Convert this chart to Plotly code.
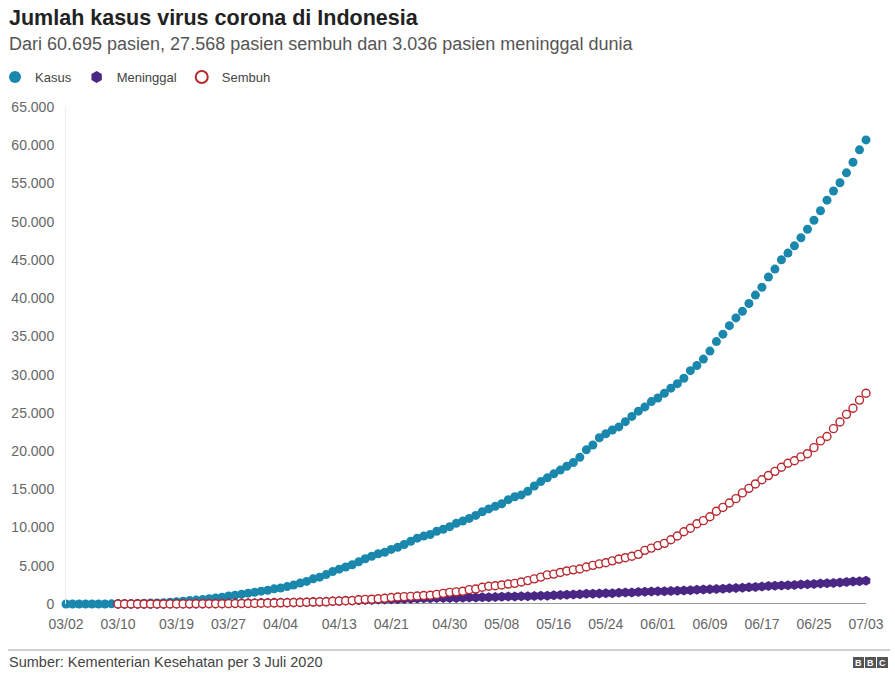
import plotly.graph_objects as go
import pandas as pd

# ---------------- data ----------------
dates = pd.date_range("2020-03-02", "2020-07-03").strftime("%Y-%m-%d").tolist()

kasus = [
    2, 2, 2, 2, 4, 4, 6, 19, 27, 34, 34, 69, 96, 117, 134, 172, 227, 309, 369, 450,
    514, 579, 686, 790, 893, 1046, 1155, 1285, 1414, 1528,
    1677, 1790, 1986, 2092, 2273, 2491, 2738, 2956, 3293, 3512, 3842, 4241, 4557, 4839,
    5136, 5516, 5923, 6248, 6575, 6760, 7135, 7418, 7775, 8211, 8607, 8882, 9096, 9511,
    9771, 10118,
    10551, 10843, 11192, 11587, 12071, 12438, 12776, 13112, 13645, 14032, 14265, 14749,
    15438, 16006, 16496, 17025, 17514, 18010, 18496, 19189, 20162, 20796, 21745, 22271,
    22750, 23165, 23851, 24538, 25216, 25773, 26473,
    26940, 27549, 28233, 28818, 29521, 30514, 31186, 32033, 33076, 34316, 35295, 36406,
    37420, 38277, 39294, 40400, 41431, 42762, 43803, 45029, 45891, 46845, 47896, 49009,
    50187, 51427, 52812, 54010, 55092, 56385,
    57770, 59394, 60695,
]

dates_later = dates[8:]  # series below start on 03/10

meninggal = [
    0, 1, 1, 4, 5, 5, 5, 7, 19, 25, 32, 38, 48, 49, 55, 58, 78, 87, 102, 114, 122, 136,
    157, 170, 181, 191, 198, 209, 221, 240, 280, 306, 327, 373, 399, 459, 469, 496, 520,
    535, 582, 590, 616, 635, 647, 689, 720, 743, 765, 773, 784, 792,
    800, 831, 845, 864, 872, 895, 930, 959, 973, 991, 1007, 1028, 1043, 1076, 1089, 1148,
    1191, 1221, 1242, 1278, 1326, 1351, 1372, 1391, 1418, 1473, 1496, 1520, 1573, 1613, 1641,
    1663, 1663, 1698, 1721, 1770, 1801, 1851, 1883, 1923, 1959, 2000, 2048, 2091, 2134,
    2198, 2231, 2276, 2339, 2373, 2429, 2465, 2500, 2535, 2573, 2620, 2683, 2720, 2754,
    2805, 2876,
    2934, 2987, 3036,
]

sembuh = [
    0, 2, 3, 5, 8, 8, 8, 9, 11, 15, 16, 20, 29, 30, 30, 31, 35, 46, 59, 64, 75, 81,
    103, 112, 134, 150, 164, 192, 204, 222, 252, 282, 286, 359, 380, 426, 446, 548, 607,
    631, 686, 747, 842, 913, 960, 1002, 1042, 1107, 1151, 1254, 1391, 1522,
    1591, 1665, 1876, 1954, 2197, 2317, 2381, 2494, 2607, 2698, 2881, 3063, 3287, 3518,
    3803, 3911, 4129, 4324, 4467, 4575, 4838, 5057, 5249, 5402, 5642, 5877, 6057, 6240,
    6492, 7015, 7308,
    7637, 7935, 8406, 8892, 9443, 9907, 10498, 10904, 11414, 12129, 12636, 13213, 13776,
    14531, 15123, 15703, 16243, 16798, 17349, 17883, 18404, 18735, 19241, 19658, 20449,
    21333, 21909, 22936, 23800, 24806,
    25595, 26667, 27568,
]

x_tick_dates = ["2020-03-02", "2020-03-10", "2020-03-19", "2020-03-27", "2020-04-04",
                "2020-04-13", "2020-04-21", "2020-04-30", "2020-05-08", "2020-05-16",
                "2020-05-24", "2020-06-01", "2020-06-09", "2020-06-17", "2020-06-25",
                "2020-07-03"]
x_tick_labels = ["03/02", "03/10", "03/19", "03/27", "04/04", "04/13", "04/21", "04/30",
                 "05/08", "05/16", "05/24", "06/01", "06/09", "06/17", "06/25", "07/03"]
y_ticks = list(range(0, 65001, 5000))

title = "Jumlah kasus virus corona di Indonesia"
subtitle = "Dari 60.695 pasien, 27.568 pasien sembuh dan 3.036 pasien meninggal dunia"
source = "Sumber: Kementerian Kesehatan per 3 Juli 2020"

# ---------------- layout helpers ----------------
W, H = 895, 674
L, R, T, B = 66, 29, 107, 70
PW, PH = W - L - R, H - T - B


def px_x(p):
    return (p - L) / PW


def px_y(p):
    return (H - B - p) / PH


TEAL = "#1a87ad"
PURPLE = "#4a2685"
RED = "#b8282e"

fig = go.Figure()
fig.add_trace(go.Scatter(
    x=dates, y=kasus, name="Kasus", mode="markers", cliponaxis=False,
    marker=dict(symbol="circle", size=9, color=TEAL),
))
fig.add_trace(go.Scatter(
    x=dates_later, y=meninggal, name="Meninggal", mode="markers", cliponaxis=False,
    marker=dict(symbol="hexagon", size=10, color=PURPLE),
))
fig.add_trace(go.Scatter(
    x=dates_later, y=sembuh, name="Sembuh", mode="markers", cliponaxis=False,
    marker=dict(symbol="circle", size=8, color="white", line=dict(color=RED, width=1.4)),
))

FONT = "Liberation Sans, Arial, sans-serif"

fig.update_layout(
    width=W, height=H,
    margin=dict(l=L, r=R, t=T, b=B, autoexpand=False),
    paper_bgcolor="white", plot_bgcolor="white",
    separators=",.",
    font=dict(family=FONT, color="#666", size=14),
    showlegend=True,
    legend=dict(
        orientation="h", x=px_x(-5), xanchor="left", y=px_y(62), yanchor="top",
        font=dict(size=13, color="#444"), itemsizing="constant",
        tracegroupgap=0, itemwidth=30, bgcolor="rgba(0,0,0,0)",
    ),
    xaxis=dict(
        type="date", range=[dates[0], dates[-1]],
        tickmode="array", tickvals=x_tick_dates, ticktext=x_tick_labels,
        showgrid=False, showline=False, zeroline=False, ticks="",
        ticklabelstandoff=10,
        tickfont=dict(size=14, color="#666"),
    ),
    yaxis=dict(
        range=[0, 65000], tickmode="array", tickvals=y_ticks, tickformat=",d",
        showgrid=False, showline=True, linecolor="#ececec", linewidth=1,
        zeroline=False, ticks="", ticklabelstandoff=8,
        tickfont=dict(size=14, color="#666"),
    ),
    annotations=[
        dict(text="<b>" + title + "</b>", xref="paper", yref="paper",
             x=px_x(7), y=px_y(18), xanchor="left", yanchor="middle", showarrow=False,
             font=dict(size=21.5, color="#222", family=FONT)),
        dict(text=subtitle, xref="paper", yref="paper",
             x=px_x(7), y=px_y(44), xanchor="left", yanchor="middle", showarrow=False,
             font=dict(size=18, color="#555", family=FONT)),
        dict(text=source, xref="paper", yref="paper",
             x=px_x(7), y=px_y(662), xanchor="left", yanchor="middle", showarrow=False,
             font=dict(size=14.5, color="#444", family=FONT)),
    ],
    shapes=[
        # zero baseline
        dict(type="line", xref="paper", yref="y", x0=px_x(62), x1=1, y0=0, y1=0,
             line=dict(color="#333", width=1), layer="below"),
        # footer rule
        dict(type="line", xref="paper", yref="paper", x0=px_x(8), x1=px_x(890),
             y0=px_y(650), y1=px_y(650), line=dict(color="#d0d0d0", width=2)),
    ],
)

# BBC logo blocks
for i, letter in enumerate(["B", "B", "C"]):
    x0 = 853 + i * 12
    fig.add_shape(type="rect", xref="paper", yref="paper",
                  x0=px_x(x0), x1=px_x(x0 + 11), y0=px_y(657), y1=px_y(668),
                  fillcolor="#555", line=dict(width=0))
    fig.add_annotation(text="<b>" + letter + "</b>", xref="paper", yref="paper",
                       x=px_x(x0 + 5.5), y=px_y(662.5), xanchor="center", yanchor="middle",
                       showarrow=False, font=dict(size=9, color="white", family=FONT))

fig.write_html("out.html")
